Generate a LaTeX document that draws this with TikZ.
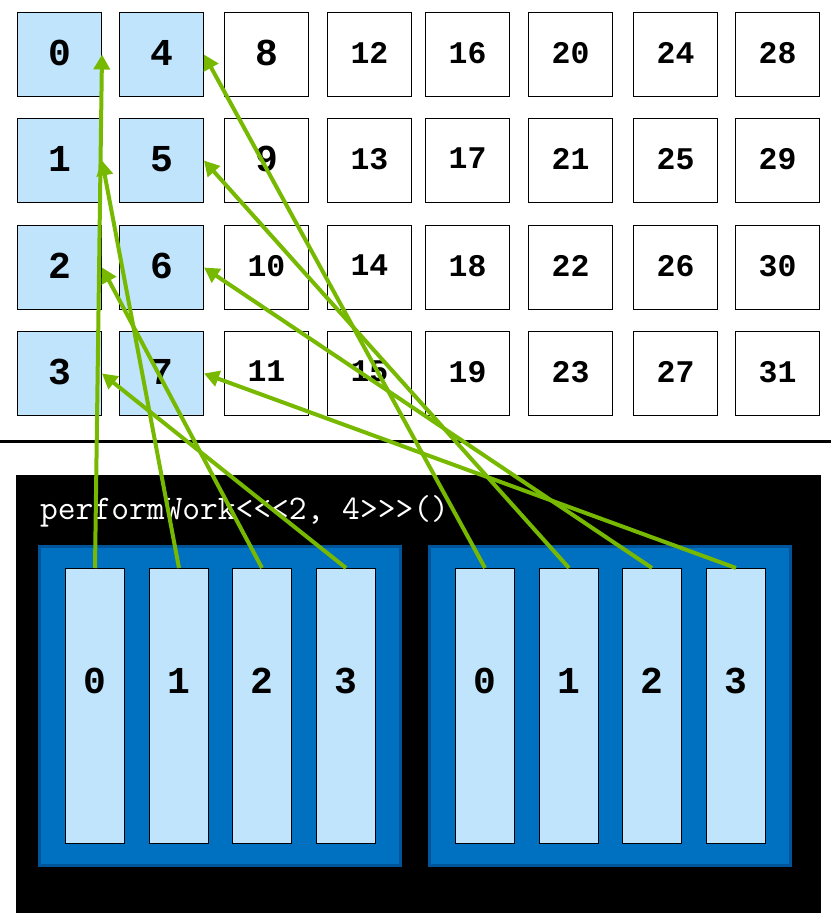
\documentclass[tikz,border=0pt]{standalone}
\usepackage{fontspec}
\newfontfamily\numfont{Liberation Mono}
\usetikzlibrary{arrows.meta}
\definecolor{lb}{HTML}{C0E4FC}
\definecolor{bb}{HTML}{0070C0}
\definecolor{bbd}{HTML}{00559A}
\definecolor{ng}{HTML}{76B900}
\begin{document}
\begin{tikzpicture}[x=1pt,y=-1pt,
  cell/.style={draw=black,line width=1pt,minimum width=84pt,minimum height=84pt,inner sep=0pt,text depth=4pt,anchor=north west},
  bignum/.style={font=\numfont\bfseries\fontsize{38}{38}\selectfont},
  smallnum/.style={font=\numfont\bfseries\fontsize{31.5}{31.5}\selectfont},
  thread/.style={draw=black,line width=1pt,fill=lb,minimum width=59pt,minimum height=275pt,inner sep=0pt,anchor=north west},
  block/.style={draw=bbd,line width=3pt,fill=bb},
  arr/.style={draw=ng,line width=4pt,-{Triangle[length=15pt,width=16pt]}}]
\useasboundingbox (0,0) rectangle (831,922);
% grid
\foreach \x [count=\c from 0] in {17,119,224,327,425,528,633,735}
 \foreach \y [count=\r from 0] in {12,118,225,331} {
   \pgfmathtruncatemacro\n{4*\c+\r}
   \ifnum\c<2 \def\fc{lb}\else\def\fc{white}\fi
   \ifnum\n<10 \def\fs{bignum}\else\def\fs{smallnum}\fi
   \node[cell,fill=\fc,\fs] (c\n) at (\x,\y) {\n};
 }
% separator
\draw[line width=3pt] (0,441.5) coordinate (sepl) -- (831,441.5) coordinate (sepr);
% black panel
\fill[black] (16,475) rectangle (821,913);
\node[anchor=base west,inner sep=0pt,text=white,font=\ttfamily\fontsize{34.5}{34.5}\selectfont] (call) at (40,519) {performWork<<<2, 4>>>()};
% blocks
\draw[block] (39.5,546.5) rectangle (400,865) node[inner sep=0pt] (b0) {};
\draw[block] (429.5,546.5) rectangle (790.5,865) node[inner sep=0pt] (b1) {};
% threads
\foreach \x [count=\t from 0] in {65,149,232,316} {
  \node[thread] (t0\t) at (\x,568) {};
  \node[bignum,inner sep=0pt] (l0\t) at ([yshift=-113pt]t0\t.north) {\t};
}
\foreach \x [count=\t from 0] in {455,539,622,706} {
  \node[thread] (t1\t) at (\x,568) {};
  \node[bignum,inner sep=0pt] (l1\t) at ([yshift=-113pt]t1\t.north) {\t};
}
% arrows
\foreach \b in {0,1}
 \foreach \t in {0,1,2,3} {
   \pgfmathtruncatemacro\n{4*\b+\t}
   \draw[arr] (t\b\t.north) -- (c\n.east);
 }
\end{tikzpicture}
\end{document}
